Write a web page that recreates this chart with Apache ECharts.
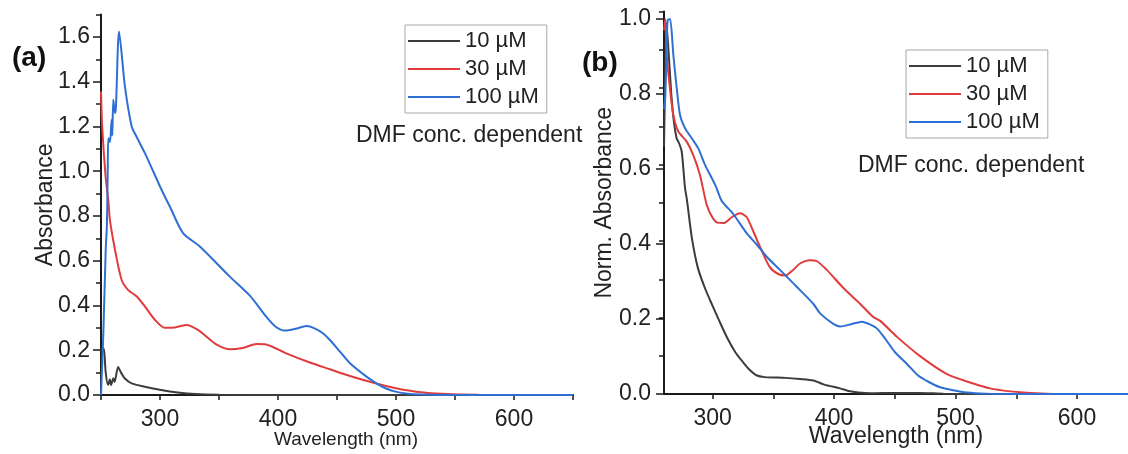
<!DOCTYPE html>
<html><head><meta charset="utf-8">
<script src="https://cdn.jsdelivr.net/npm/echarts@6/dist/echarts.min.js"></script>
<style>html,body{margin:0;padding:0;background:#fff}#c{width:1128px;height:454px}</style>
</head><body><div id="c"></div>
<script>
// ---------- data (wavelength nm, value) ----------
const seriesNames = ['10 µM', '30 µM', '100 µM'];

// panel (a): absorbance
const aTen = [[250,0.2],[251.5,0.21],[252.8,0.19],[254,0.1],[256,0.045],[257.5,0.07],[258.5,0.045],[260.5,0.075],[261.5,0.058],[264.5,0.125],[267,0.1],[270,0.075],[276,0.052],[287,0.037],[301,0.022],[315,0.011],[330,0.004],[350,0.001],[400,0],[650,0]];
const aThirty = [[250,1.356],[251,1.2],[253.9,0.976],[256.2,0.87],[257.6,0.78],[261.9,0.648],[267.5,0.514],[273.1,0.469],[280.3,0.44],[287.3,0.395],[295.8,0.335],[304,0.3],[312.7,0.302],[322.6,0.313],[332.5,0.29],[340,0.258],[348,0.225],[359,0.204],[370,0.21],[382,0.228],[390,0.226],[407,0.186],[427,0.145],[444,0.115],[461,0.085],[484,0.05],[500,0.03],[517,0.015],[543,0.004],[570,0.001],[650,0]];
const aHundred = [[250,0.0],[252,0.28],[254,0.65],[255,0.76],[255.7,1.0],[256.2,1.147],[257.6,1.13],[259,1.23],[259.6,1.16],[260.4,1.32],[261.9,1.26],[262.7,1.29],[265.3,1.625],[270.3,1.378],[276,1.2],[280,1.155],[287.3,1.08],[301.4,0.916],[308.5,0.84],[319.7,0.722],[334,0.663],[359,0.53],[376,0.445],[390,0.35],[398,0.305],[406,0.288],[415,0.296],[424,0.308],[431,0.298],[438,0.276],[444,0.246],[452.5,0.194],[461,0.142],[475,0.082],[484,0.05],[492,0.028],[500.6,0.014],[510,0.006],[520,0.002],[540,0],[650,0]];

// panel (b): normalised absorbance
const bTen = [[260,0.66],[261,0.85],[262,0.99],[264,0.9],[266,0.8],[268,0.73],[270.4,0.682],[272.5,0.668],[274.6,0.646],[277.3,0.55],[279,0.515],[283,0.415],[288,0.335],[294,0.28],[300,0.235],[305.5,0.195],[312,0.15],[319,0.11],[325,0.085],[330,0.066],[336,0.05],[343,0.045],[360,0.043],[372,0.04],[383,0.036],[392,0.025],[405,0.015],[412,0.008],[420,0.004],[430,0.002],[450,0.003],[470,0.003],[490,0.001],[520,0],[642,0]];
const bThirty = [[260,0.97],[261,1.0],[262.2,0.904],[264.9,0.815],[267.7,0.744],[271.8,0.7],[278.7,0.673],[284.1,0.637],[289.6,0.584],[295.2,0.504],[300,0.47],[304,0.457],[309,0.456],[316,0.472],[322.6,0.482],[328,0.472],[334,0.43],[339,0.393],[347,0.339],[354,0.32],[360,0.316],[366,0.33],[372,0.348],[380,0.357],[386,0.354],[394,0.331],[405,0.292],[411,0.272],[421,0.242],[432,0.206],[438,0.195],[451.6,0.153],[470,0.103],[493,0.053],[514.7,0.028],[528.5,0.015],[545,0.007],[556,0.004],[575,0.001],[600,0],[642,0]];
const bHundred = [[260,0.76],[261,0.79],[262,0.9],[263,0.997],[265,1.0],[267.7,0.904],[270.5,0.815],[273.2,0.744],[277.3,0.709],[282.8,0.682],[288.2,0.655],[293.8,0.611],[302.5,0.555],[307.5,0.515],[317,0.48],[328,0.429],[336,0.4],[344.6,0.366],[355.5,0.331],[366.5,0.295],[372,0.277],[383,0.24],[388.5,0.215],[399.4,0.187],[405,0.18],[414,0.186],[423,0.193],[430,0.185],[435.2,0.175],[442,0.148],[450,0.112],[460,0.08],[469,0.05],[478,0.032],[487.3,0.018],[498,0.01],[509.3,0.004],[525,0.001],[550,0],[642,0]];

// tick values
const aYMajor = [0, 0.2, 0.4, 0.6, 0.8, 1.0, 1.2, 1.4, 1.6];
const bYMajor = [0, 0.2, 0.4, 0.6, 0.8, 1.0];
const aXTicks = [250, 300, 350, 400, 450, 500, 550, 600, 650];
const bXTicks = [300, 350, 400, 450, 500, 550, 600];
const xLabelValues = [300, 400, 500, 600];

// ---------- style ----------
const FONT = "'Liberation Sans', Arial, sans-serif";
const colors = ['#3c3c3c', '#e03c3e', '#2f6fd4'];
const axisCol = '#1a1a1a';
const textCol = '#222';

function xAxis(grid, min, max, ticks, name, nameSize, nameGap, namePad, labelMargin) {
  return {
    type: 'value', gridIndex: grid, min: min, max: max,
    axisLine: { show: true, onZero: false, lineStyle: { color: axisCol, width: 2 } },
    axisTick: { show: true, inside: false, length: 5, customValues: ticks, lineStyle: { color: axisCol, width: 1.5 } },
    axisLabel: { show: true, customValues: xLabelValues, margin: labelMargin, fontSize: 23, color: textCol, fontFamily: FONT },
    splitLine: { show: false },
    name: name, nameLocation: 'middle', nameGap: nameGap, nameMoveOverlap: false,
    nameTextStyle: { fontSize: nameSize, color: textCol, fontFamily: FONT, padding: namePad }
  };
}
function yMajor(grid, max, ticks, name, gap, margin) {
  return {
    type: 'value', gridIndex: grid, min: 0, max: max, position: 'left',
    axisLine: { show: true, onZero: false, lineStyle: { color: axisCol, width: 2 } },
    axisTick: { show: true, inside: false, length: 8, customValues: ticks, lineStyle: { color: axisCol, width: 1.5 } },
    axisLabel: { show: true, customValues: ticks, margin: margin, fontSize: 23, color: textCol, fontFamily: FONT,
      formatter: v => v.toFixed(1) },
    splitLine: { show: false },
    name: name, nameLocation: 'middle', nameGap: gap, nameMoveOverlap: false,
    nameTextStyle: { fontSize: 23, color: textCol, fontFamily: FONT }
  };
}
function yMinor(grid, max) {
  return {
    type: 'value', gridIndex: grid, min: 0, max: max, interval: 0.1, position: 'left',
    axisLine: { show: false },
    axisTick: { show: true, inside: false, length: 5, lineStyle: { color: axisCol, width: 1.5 } },
    axisLabel: { show: false }, splitLine: { show: false }
  };
}
function line(name, data, xi, yi, ci) {
  return {
    type: 'line', name: name, data: data, xAxisIndex: xi, yAxisIndex: yi,
    showSymbol: false, symbol: 'none', smooth: 0.25, animation: false,
    lineStyle: { color: colors[ci], width: 2 }, itemStyle: { color: colors[ci] }
  };
}
function legend(left, top) {
  return {
    data: seriesNames, orient: 'vertical', left: left, top: top,
    icon: 'rect', itemWidth: 52, itemHeight: 2, itemGap: 6,
    padding: [5, 8, 5, 3], borderColor: '#a8a8a8', borderWidth: 1,
    textStyle: { fontSize: 22, lineHeight: 22, color: textCol, fontFamily: FONT },
    selectedMode: false
  };
}

const chart = echarts.init(document.getElementById('c'), null, { renderer: 'canvas' });
chart.setOption({
  backgroundColor: '#fff',
  animation: false,
  grid: [
    { left: 101, top: 14.6, width: 472, height: 380.4, containLabel: false, outerBoundsMode: 'none' },
    { left: 664, top: 11.5, width: 464, height: 382.5, containLabel: false, outerBoundsMode: 'none' }
  ],
  xAxis: [
    xAxis(0, 250, 650, aXTicks, 'Wavelength (nm)', 19, 35, [0, 0, 0, 18], 13),
    xAxis(1, 260, 642, bXTicks, 'Wavelength (nm)', 23, 31, [0, 0, 0, 0], 13)
  ],
  yAxis: [
    yMajor(0, 1.7, aYMajor, 'Absorbance', 44, 11),
    yMinor(0, 1.7),
    yMajor(1, 1.02, bYMajor, 'Norm. Absorbance', 48, 13),
    yMinor(1, 1.0)
  ],
  legend: [legend(405, 25), legend(906, 50)],
  series: [
    line(seriesNames[0], aTen, 0, 0, 0),
    line(seriesNames[1], aThirty, 0, 0, 1),
    line(seriesNames[2], aHundred, 0, 0, 2),
    line(seriesNames[0], bTen, 1, 2, 0),
    line(seriesNames[1], bThirty, 1, 2, 1),
    line(seriesNames[2], bHundred, 1, 2, 2)
  ],
  graphic: [
    { type: 'text', left: 12, top: 44, style: { text: '(a)', fontSize: 28, fontWeight: 'bold', fill: '#111', fontFamily: FONT } },
    { type: 'text', left: 582, top: 49, style: { text: '(b)', fontSize: 28, fontWeight: 'bold', fill: '#111', fontFamily: FONT } },
    { type: 'text', left: 356, top: 124, style: { text: 'DMF conc. dependent', fontSize: 23, fill: textCol, fontFamily: FONT } },
    { type: 'text', left: 858, top: 154, style: { text: 'DMF conc. dependent', fontSize: 23, fill: textCol, fontFamily: FONT } }
  ]
});
</script></body></html>
